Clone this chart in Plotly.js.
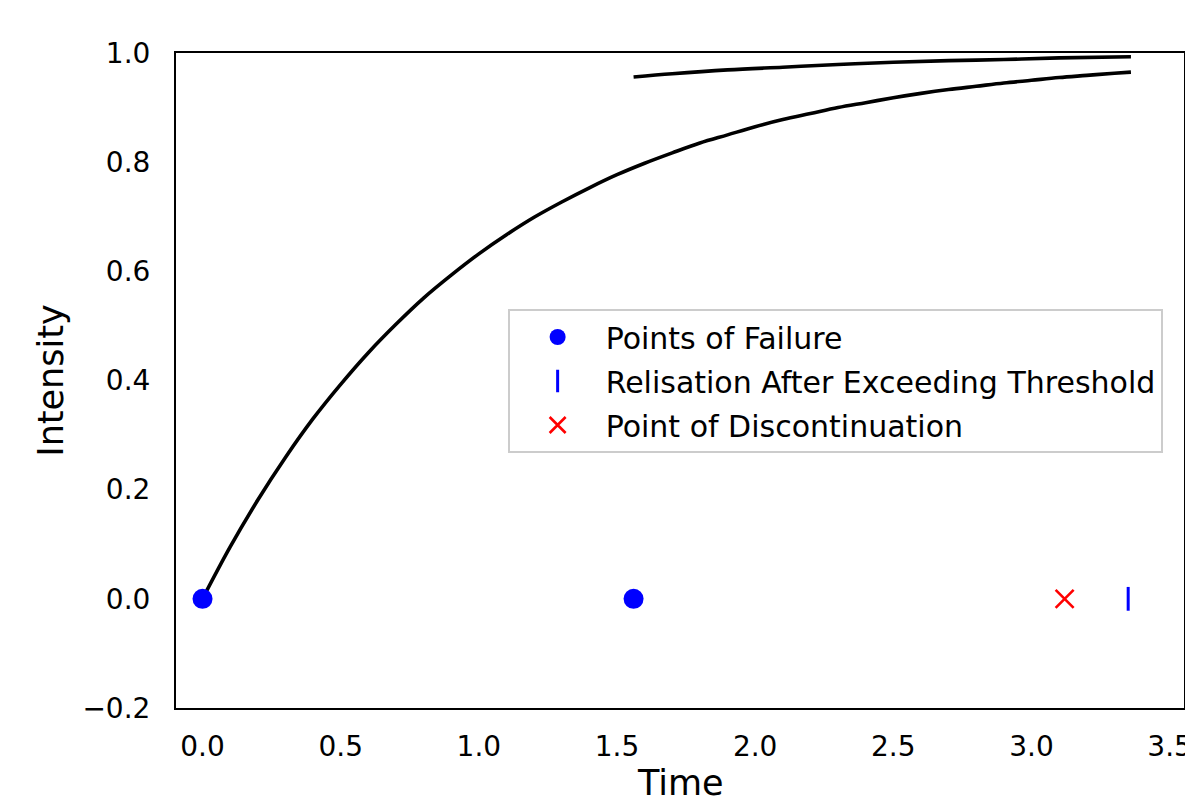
<!DOCTYPE html>
<html>
<head>
<meta charset="utf-8">
<script src="https://cdn.plot.ly/plotly-3.0.1.min.js"></script>
<style>html,body{margin:0;padding:0;background:#fff;}#chart{width:1185px;height:797px;}</style>
</head>
<body>
<div id="chart"></div>
<script>
// Main intensity curve
const curve1T = [0,0.1,0.2,0.3,0.4,0.5,0.6,0.7,0.8,0.9,1.0,1.1,1.2,1.3,1.4,1.5,1.6,1.7,1.8,1.9,2.0,2.1,2.2,2.3,2.4,2.5,2.6,2.7,2.8,2.9,3.0,3.1,3.2,3.3,3.36];
const curve1Y = [0,0.095,0.181,0.259,0.330,0.393,0.451,0.503,0.551,0.593,0.632,0.667,0.699,0.727,0.753,0.777,0.798,0.817,0.835,0.850,0.865,0.878,0.889,0.900,0.909,0.918,0.926,0.933,0.939,0.945,0.950,0.955,0.959,0.963,0.965];
// Second curve after second failure
const curve2T = [1.56,1.7,1.9,2.1,2.3,2.5,2.7,2.9,3.1,3.36];
const curve2Y = [0.956,0.962,0.969,0.974,0.979,0.983,0.986,0.988,0.991,0.993];
// Event markers
const failureT = [0.0, 1.56];
const failureY = [0, 0];
const relisationT = [3.35];
const relisationY = [0];
const discontT = [3.12];
const discontY = [0];
// Tick labels
const xTickVals = [0,0.5,1.0,1.5,2.0,2.5,3.0,3.5];
const xTickText = ["0.0","0.5","1.0","1.5","2.0","2.5","3.0","3.5"];
const yTickVals = [-0.2,0,0.2,0.4,0.6,0.8,1.0];
const yTickText = ["\u22120.2","0.0","0.2","0.4","0.6","0.8","1.0"];
const xTitle = "Time";
const yTitle = "Intensity";

const font = "DejaVu Sans, sans-serif";
const traces = [
  {x: curve1T, y: curve1Y, mode: "lines", line: {color: "black", width: 3.6, shape: "spline", smoothing: 1}, showlegend: false, hoverinfo: "skip"},
  {x: curve2T, y: curve2Y, mode: "lines", line: {color: "black", width: 3.6, shape: "spline", smoothing: 1}, showlegend: false, hoverinfo: "skip"},
  {x: failureT, y: failureY, mode: "markers", name: "Points of Failure", legendgroup: "a",
   marker: {color: "blue", size: 20, symbol: "circle", line: {width: 0}}},
  {x: relisationT, y: relisationY, mode: "markers", name: "Relisation After Exceeding Threshold", legendgroup: "b",
   marker: {color: "blue", size: 17, symbol: "line-ns", line: {color: "blue", width: 3}}},
  {x: discontT, y: discontY, mode: "markers", name: "Point of Discontinuation", legendgroup: "c",
   marker: {color: "red", size: 18, symbol: "x-thin", line: {color: "red", width: 2.6}}}
];
const layout = {
  width: 1185, height: 797,
  margin: {l: 176, r: 1, t: 53, b: 89},
  paper_bgcolor: "white", plot_bgcolor: "white",
  font: {family: font, size: 28, color: "black"},
  xaxis: {
    range: [-0.096, 3.552], tickvals: xTickVals, ticktext: xTickText,
    showgrid: false, zeroline: false, showline: true, linecolor: "black", linewidth: 2, mirror: true,
    ticks: "", ticklabelstandoff: 12, ticklabeloverflow: "allow"
  },
  yaxis: {
    range: [-0.2, 1.0], tickvals: yTickVals, ticktext: yTickText,
    showgrid: false, zeroline: false, showline: true, linecolor: "black", linewidth: 2, mirror: true,
    ticks: "", ticklabelstandoff: 18,
    title: {text: yTitle, font: {size: 35}, standoff: 8}
  },
  annotations: [{
    text: xTitle, xref: "paper", yref: "paper", x: 0.5, y: -0.1145,
    xanchor: "center", yanchor: "middle", showarrow: false, font: {family: font, size: 35, color: "black"}
  }],
  legend: {
    x: 0.329, y: 0.6092, xanchor: "left", yanchor: "top",
    bgcolor: "white", bordercolor: "#cccccc", borderwidth: 2,
    font: {family: font, size: 30}, itemwidth: 86, traceorder: "grouped", tracegroupgap: 2
  },
  showlegend: true
};
Plotly.newPlot("chart", traces, layout, {staticPlot: true, displayModeBar: false});
</script>
</body>
</html>
